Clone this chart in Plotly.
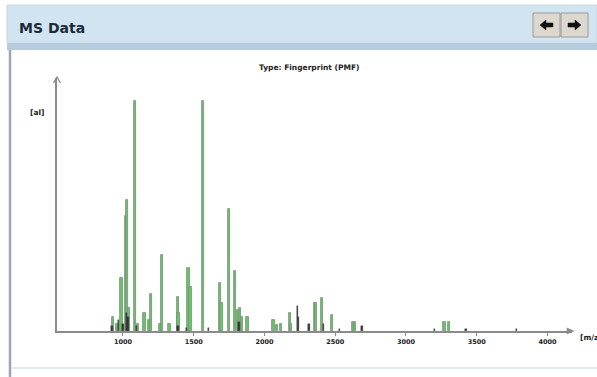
import plotly.graph_objects as go

# ---- data ----
green_mz = [930, 960, 989, 1019, 1031, 1042, 1087, 1105, 1153, 1188, 1200, 1265, 1275,
            1329, 1387, 1393, 1463, 1477, 1568, 1688, 1697, 1751, 1791, 1815, 1826,
            1840, 1880, 2063, 2090, 2115, 2181, 2190, 2357, 2365, 2408, 2475, 2625,
            2640, 3272, 3305]
green_int = [6, 3, 23, 50, 57, 10, 100, 3, 8, 5, 16, 3, 33,
             3, 15, 8, 27.5, 19, 100, 21, 12, 53, 26, 9, 10,
             6, 6, 5, 2.5, 3, 8, 3, 12, 12, 14.5, 7, 4,
             4, 4, 4]
dark_mz = [922, 970, 1000, 1027, 1035, 1095, 1390, 1450, 1605, 1820, 2232, 2240,
           2315, 2415, 2530, 2690, 3200, 3425, 3780]
dark_int = [2, 5, 3, 8, 6, 2, 2, 1.5, 1.5, 4, 11, 6,
            3, 3, 1, 2, 1, 1, 0.8]
tick_vals = [1000, 1500, 2000, 2500, 3000, 3500, 4000]
tick_text = ["1000", "1500", "2000", "2500", "3000", "3500", "4000"]

# ---- geometry of plot area in pixels ----
WIDTH, HEIGHT = 597, 377
L, R, T, B = 57, 572, 78, 331
PW, PH = R - L, B - T


def px(xp):
    return (xp - L) / PW


def py(yp):
    return (B - yp) / PH


fig = go.Figure()
fig.add_trace(go.Bar(x=green_mz, y=green_int, width=16,
                     marker=dict(color="#62c862", line=dict(color="#7f8a7f", width=0.8)),
                     name="matched"))
fig.add_trace(go.Bar(x=dark_mz, y=dark_int, width=10,
                     marker=dict(color="#333333", line=dict(color="#333333", width=0.4)),
                     name="other"))

shapes = []
# header band
shapes.append(dict(type="rect", xref="paper", yref="paper", x0=px(7), x1=px(597), y0=py(43), y1=py(5),
                   fillcolor="#d3e4f1", line=dict(color="#c5d6e4", width=1), layer="below"))
shapes.append(dict(type="rect", xref="paper", yref="paper", x0=px(7), x1=px(597), y0=py(50), y1=py(43),
                   fillcolor="#b7cbdf", line=dict(width=0), layer="below"))
# left border of content panel
shapes.append(dict(type="line", xref="paper", yref="paper", x0=px(10), x1=px(10), y0=py(377), y1=py(50),
                   line=dict(color="#9aa6b4", width=2.5), layer="below"))
# bottom light line
shapes.append(dict(type="line", xref="paper", yref="paper", x0=px(11), x1=px(597), y0=py(368), y1=py(368),
                   line=dict(color="#dfeaf4", width=2), layer="below"))
# buttons
for x0, x1 in [(533, 560), (561, 588)]:
    shapes.append(dict(type="rect", xref="paper", yref="paper", x0=px(x0), x1=px(x1), y0=py(37), y1=py(13),
                       fillcolor="#dcd8d0", line=dict(color="#9a9a9a", width=1), layer="below"))


def path(points):
    return "M " + " L ".join(f"{px(a):.5f},{py(b):.5f}" for a, b in points) + " Z"


# left arrow glyph
shapes.append(dict(type="path", xref="paper", yref="paper",
                   path=path([(540, 25), (546, 20), (546, 23), (553, 23), (553, 27), (546, 27), (546, 30)]),
                   fillcolor="#111111", line=dict(color="#111111", width=0.5)))
# right arrow glyph
shapes.append(dict(type="path", xref="paper", yref="paper",
                   path=path([(581, 25), (575, 20), (575, 23), (568, 23), (568, 27), (575, 27), (575, 30)]),
                   fillcolor="#111111", line=dict(color="#111111", width=0.5)))
# axis arrowheads
shapes.append(dict(type="path", xref="paper", yref="paper",
                   path=path([(574, 331), (567, 328), (567, 334)]),
                   fillcolor="#8a8a8a", line=dict(color="#8a8a8a", width=0.5)))
shapes.append(dict(type="path", xref="paper", yref="paper",
                   path="M {:.5f},{:.5f} L {:.5f},{:.5f} L {:.5f},{:.5f}".format(
                       px(53.5), py(83), px(57), py(77), px(60.5), py(83)),
                   line=dict(color="#8a8a8a", width=1.3)))

annotations = [
    dict(text="<b>MS Data</b>", xref="paper", yref="paper", x=px(17), y=py(28), xanchor="left",
         yanchor="middle", showarrow=False, font=dict(family="DejaVu Sans", size=14, color="#1c2b3a")),
    dict(text="<b>Type: Fingerprint (PMF)</b>", xref="paper", yref="paper", x=px(309), y=py(67),
         xanchor="center", yanchor="middle", showarrow=False,
         font=dict(family="DejaVu Sans", size=7.5, color="#222222")),
    dict(text="<b>[al]</b>", xref="paper", yref="paper", x=px(37), y=py(112), xanchor="center",
         yanchor="middle", showarrow=False, font=dict(family="DejaVu Sans", size=7.5, color="#222222")),
    dict(text="<b>[m/z</b>", xref="paper", yref="paper", x=px(578), y=py(337), xanchor="left",
         yanchor="middle", showarrow=False, font=dict(family="DejaVu Sans", size=7.5, color="#222222")),
]

fig.update_layout(
    width=WIDTH, height=HEIGHT,
    margin=dict(l=L, r=WIDTH - R, t=T, b=HEIGHT - B, pad=0),
    paper_bgcolor="white", plot_bgcolor="white",
    showlegend=False, barmode="overlay", bargap=0,
    shapes=shapes, annotations=annotations,
    xaxis=dict(range=[534, 4173], tickvals=tick_vals, ticktext=tick_text, showgrid=False, zeroline=False,
               showline=True, linecolor="#8a8a8a", linewidth=1.5, ticks="outside", ticklen=3,
               tickcolor="#8a8a8a", tickwidth=1,
               tickfont=dict(family="DejaVu Sans", size=6.5, color="#222222", weight="bold")),
    yaxis=dict(range=[0, 110], showticklabels=False, showgrid=False, zeroline=False, ticks="",
               showline=True, linecolor="#8a8a8a", linewidth=1.5),
)

fig.write_html("out.html")
